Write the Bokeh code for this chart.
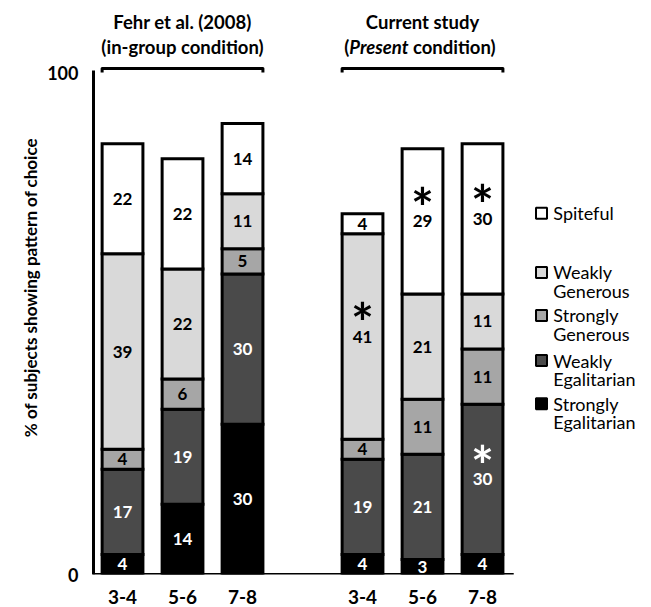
from bokeh.plotting import figure
from bokeh.models import FixedTicker, Range1d
from bokeh.core.properties import value
from bokeh.embed import file_html
from bokeh.resources import INLINE

# ---- data -------------------------------------------------------------
age_groups = ["3-4", "5-6", "7-8"]
study_titles = [["Fehr et al. (2008)", "(in-group condition)"],
                ["Current study", "(Present condition)"]]
choice_types = ["Strongly Egalitarian", "Weakly Egalitarian",
                "Strongly Generous", "Weakly Generous", "Spiteful"]

# Fehr et al. (2008), in-group condition (% of subjects)
fehr_strongly_egalitarian = [4, 14, 30]
fehr_weakly_egalitarian = [17, 19, 30]
fehr_strongly_generous = [4, 6, 5]
fehr_weakly_generous = [39, 22, 11]
fehr_spiteful = [22, 22, 14]

# Current study, Present condition (% of subjects)
current_strongly_egalitarian = [4, 3, 4]
current_weakly_egalitarian = [19, 21, 30]
current_strongly_generous = [4, 11, 11]
current_weakly_generous = [41, 21, 11]
current_spiteful = [4, 29, 30]

# significant differences, marked with an asterisk
current_sig_strongly_egalitarian = [False, False, False]
current_sig_weakly_egalitarian = [False, False, True]
current_sig_strongly_generous = [False, False, False]
current_sig_weakly_generous = [True, False, False]
current_sig_spiteful = [False, True, True]

# ---- styling ----------------------------------------------------------
FONT = "Lato"
fills = ["#000000", "#4a4a4a", "#a6a6a6", "#d9d9d9", "#ffffff"]
label_colors = ["white", "white", "black", "black", "black"]
BAR_W = 0.68

studies = [
    dict(x=[0, 1, 2],
         series=[fehr_strongly_egalitarian, fehr_weakly_egalitarian,
                 fehr_strongly_generous, fehr_weakly_generous, fehr_spiteful],
         sig=[[False] * 3] * 5),
    dict(x=[4, 5, 6],
         series=[current_strongly_egalitarian, current_weakly_egalitarian,
                 current_strongly_generous, current_weakly_generous,
                 current_spiteful],
         sig=[current_sig_strongly_egalitarian, current_sig_weakly_egalitarian,
              current_sig_strongly_generous, current_sig_weakly_generous,
              current_sig_spiteful]),
]

X0 = -0.567
p = figure(width=651, height=607, output_backend="svg", toolbar_location=None,
           x_range=Range1d(X0, X0 + 563 / 60), y_range=Range1d(0, 114.57),
           min_border_left=88, min_border_right=0, min_border_top=0,
           min_border_bottom=33)
p.outline_line_color = None
p.xgrid.visible = False
p.ygrid.visible = False
p.background_fill_color = "white"
p.border_fill_color = "white"

# ---- stacked bars -----------------------------------------------------
for st in studies:
    bottoms = [0] * 3
    for k, vals in enumerate(st["series"]):
        tops = [b + v for b, v in zip(bottoms, vals)]
        p.vbar(x=st["x"], width=BAR_W, bottom=bottoms, top=tops,
               fill_color=fills[k], line_color="black", line_width=3,
               line_join="miter")
        mids = [(b + t) / 2 for b, t in zip(bottoms, tops)]
        p.text(x=st["x"], y=mids, text=[str(v) for v in vals],
               text_align="center", text_baseline="middle",
               text_font=value(FONT), text_font_style="bold",
               text_font_size="17px", text_color=label_colors[k])
        sx = [x for x, s in zip(st["x"], st["sig"][k]) if s]
        sy = [m for m, s in zip(mids, st["sig"][k]) if s]
        if sx:
            p.text(x=sx, y=sy, text=["*"] * len(sx), y_offset=-15,
                   text_align="center", text_baseline="middle",
                   text_font=value(FONT), text_font_style="bold",
                   text_font_size="54px", text_color=label_colors[k])
        bottoms = tops

# ---- axes lines ---------------------------------------------------------
p.segment(x0=[X0 + 5 / 60], y0=[0], x1=[X0 + 5 / 60], y1=[100.6],
          line_color="black", line_width=3)
p.segment(x0=[X0 + 4 / 60], y0=[0], x1=[6.52], y1=[0],
          line_color="black", line_width=3)

# ---- study brackets and titles -------------------------------------------
TITLE_SIZE = "18.5px"
for st, title in zip(studies, study_titles):
    xl = min(st["x"]) - BAR_W / 2
    xr = max(st["x"]) + BAR_W / 2
    p.line(x=[xl, xl, xr, xr], y=[100.2, 101.0, 101.0, 100.2],
           line_color="black", line_width=3, line_join="round")
    xc = (xl + xr) / 2
    p.text(x=[xc], y=[110.2], text=[title[0]], text_align="center",
           text_baseline="middle", text_font=value(FONT),
           text_font_style="bold", text_font_size=TITLE_SIZE,
           text_color="black")

p.text(x=[1], y=[105.2], text=[study_titles[0][1]], text_align="center",
       text_baseline="middle", text_font=value(FONT), text_font_style="bold",
       text_font_size=TITLE_SIZE, text_color="black")
# "(Present condition)" with the word Present in italics
xs = 4 - BAR_W / 2 + 0.12
p.text(x=[xs], y=[105.2], text=["("], text_align="right",
       text_baseline="middle", text_font=value(FONT), text_font_style="bold",
       text_font_size=TITLE_SIZE, text_color="black")
p.text(x=[xs], y=[105.2], text=["Present"], text_align="left",
       text_baseline="middle", text_font=value(FONT),
       text_font_style="bold italic", text_font_size=TITLE_SIZE,
       text_color="black")
p.text(x=[xs + 1.06], y=[105.2], text=["condition)"], text_align="left",
       text_baseline="middle", text_font=value(FONT), text_font_style="bold",
       text_font_size=TITLE_SIZE, text_color="black")

# ---- legend -------------------------------------------------------------
legend_y = [34.1, 42.7, 51.7, 60.3, 72.1]
for k, name in enumerate(choice_types):
    p.scatter(x=[6.983], y=[legend_y[k]], marker="square", size=11,
              fill_color=fills[k], line_color="black", line_width=2)
    for j, word in enumerate(name.split(" ")):
        p.text(x=[7.18], y=[legend_y[k] - j * 3.7], text=[word],
               text_align="left", text_baseline="middle",
               text_font=value(FONT), text_font_size="18px",
               text_color="black")

# ---- tick labels ----------------------------------------------------------
p.xaxis.ticker = FixedTicker(ticks=[0, 1, 2, 4, 5, 6])
p.xaxis.major_label_overrides = {0: "3-4", 1: "5-6", 2: "7-8",
                                 4: "3-4", 5: "5-6", 6: "7-8"}
p.xaxis.axis_line_color = None
p.xaxis.major_tick_line_color = None
p.xaxis.minor_tick_line_color = None
p.xaxis.major_label_standoff = 9
p.xaxis.major_label_text_font = FONT
p.xaxis.major_label_text_font_style = "bold"
p.xaxis.major_label_text_font_size = "19px"
p.xaxis.major_label_text_color = "black"

p.yaxis.ticker = FixedTicker(ticks=[0, 100])
p.yaxis.axis_line_color = None
p.yaxis.major_tick_line_color = None
p.yaxis.minor_tick_line_color = None
p.yaxis.major_label_standoff = 4
p.yaxis.major_label_text_font = FONT
p.yaxis.major_label_text_font_style = "bold"
p.yaxis.major_label_text_font_size = "18px"
p.yaxis.major_label_text_color = "black"
p.yaxis.axis_label = "% of subjects showing pattern of choice"
p.yaxis.axis_label_text_font = FONT
p.yaxis.axis_label_text_font_style = "bold"
p.yaxis.axis_label_text_font_size = "17px"
p.yaxis.axis_label_text_color = "black"
p.yaxis.axis_label_standoff = 3

open("out.html", "w").write(file_html(p, INLINE))
